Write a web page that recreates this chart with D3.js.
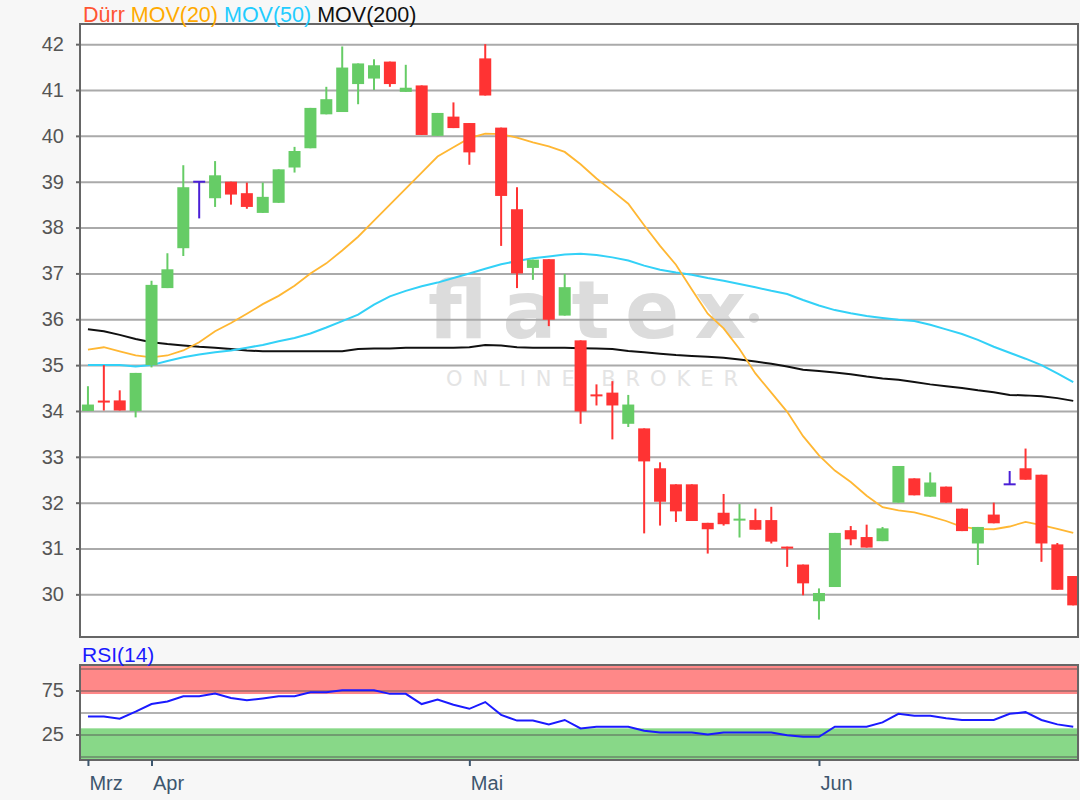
<!DOCTYPE html>
<html>
<head>
<meta charset="utf-8">
<script src="https://cdnjs.cloudflare.com/ajax/libs/d3/7.8.5/d3.min.js"></script>
<style>
  body { margin: 0; background: #f7f7f7; }
  svg { display: block; font-family: "Liberation Sans", Arial, sans-serif; }
</style>
</head>
<body>
<svg id="vis" width="1080" height="800"></svg>
<script>
// daily candles (EUR)
var opens = [34.0, 34.22, 34.23, 34.0, 35.0, 36.68, 37.55, 39.0, 38.64, 39.0,
  38.75, 38.32, 38.54, 39.31, 39.73, 40.47, 40.52, 41.13, 41.25, 41.62,
  40.96, 41.1, 40.0, 40.42, 40.28, 41.69, 40.18, 38.4, 37.12, 37.31,
  36.08, 35.54, 34.36, 34.4, 33.72, 33.62, 32.75, 32.4, 32.4, 31.56,
  31.78, 31.61, 31.62, 31.62, 31.04, 30.65, 29.85, 30.16, 31.4, 31.25,
  31.16, 32.0, 32.53, 32.13, 32.35, 31.87, 31.11, 31.74, 32.4, 32.75,
  32.61, 31.09, 30.4];
var highs = [34.54, 35.0, 34.45, 34.83, 36.84, 37.44, 39.36, 39.0, 39.45, 39.0,
  38.98, 38.98, 39.27, 39.76, 40.61, 41.07, 41.95, 41.58, 41.67, 41.62,
  41.55, 41.1, 40.5, 40.73, 40.28, 42.0, 40.18, 38.88, 37.3, 37.31,
  36.99, 35.54, 34.58, 34.65, 34.35, 33.62, 32.88, 32.4, 32.4, 31.56,
  32.19, 31.97, 31.87, 31.91, 31.04, 30.65, 30.13, 31.34, 31.49, 31.52,
  31.47, 32.8, 32.53, 32.66, 32.35, 31.87, 31.47, 32.0, 32.69, 33.18,
  32.61, 31.12, 30.4];
var lows = [34.0, 34.01, 34.01, 33.86, 34.95, 36.68, 37.38, 38.2, 38.45, 38.5,
  38.41, 38.32, 38.54, 39.2, 39.73, 40.47, 40.52, 40.69, 41.0, 41.07,
  40.96, 40.02, 40.0, 40.17, 39.37, 40.88, 37.6, 36.68, 36.86, 35.85,
  36.08, 33.72, 34.12, 33.38, 33.65, 31.33, 31.5, 31.58, 31.6, 30.89,
  31.5, 31.24, 31.41, 31.11, 30.6, 29.98, 29.45, 30.16, 31.07, 31.02,
  31.16, 32.0, 32.16, 32.13, 32.0, 31.38, 30.64, 31.55, 32.4, 32.5,
  30.71, 30.1, 29.76];
var closes = [34.14, 34.19, 34.01, 34.83, 36.75, 37.09, 38.88, 39.0, 39.14, 38.72,
  38.45, 38.67, 39.27, 39.67, 40.61, 40.8, 41.49, 41.58, 41.54, 41.13,
  41.05, 40.02, 40.5, 40.17, 39.64, 40.88, 38.69, 37.0, 37.3, 35.99,
  36.7, 33.99, 34.32, 34.12, 34.14, 32.9, 32.02, 31.81, 31.6, 31.42,
  31.53, 31.65, 31.41, 31.15, 31.0, 30.24, 30.03, 31.34, 31.2, 31.02,
  31.44, 32.8, 32.16, 32.44, 32.0, 31.38, 31.47, 31.55, 32.4, 32.5,
  31.11, 30.1, 29.76];

// moving averages
var ma20 = [35.34, 35.39, 35.3, 35.21, 35.17, 35.21, 35.32, 35.5, 35.74, 35.92,
  36.12, 36.33, 36.51, 36.73, 37.0, 37.22, 37.5, 37.8, 38.15, 38.5,
  38.85, 39.2, 39.55, 39.75, 39.95, 40.05, 40.04, 39.96, 39.86, 39.77,
  39.65, 39.38, 39.07, 38.8, 38.52, 38.05, 37.6, 37.19, 36.65, 36.12,
  35.8, 35.35, 34.82, 34.4, 33.98, 33.45, 33.03, 32.7, 32.45, 32.15,
  31.9, 31.83, 31.79, 31.7, 31.6, 31.47, 31.43, 31.42, 31.48, 31.58,
  31.51, 31.43, 31.34];
var ma50 = [35.0, 35.0, 35.0, 34.97, 35.0, 35.09, 35.17, 35.23, 35.28, 35.32,
  35.38, 35.44, 35.52, 35.59, 35.69, 35.82, 35.96, 36.1, 36.32, 36.5,
  36.62, 36.72, 36.8, 36.9, 37.0, 37.1, 37.2, 37.27, 37.33, 37.37,
  37.41, 37.43, 37.4, 37.35, 37.28, 37.17, 37.08, 37.02, 36.97, 36.9,
  36.84, 36.77, 36.7, 36.62, 36.55, 36.42, 36.3, 36.2, 36.13, 36.07,
  36.03, 35.99, 35.96, 35.88, 35.78, 35.68, 35.55, 35.4, 35.27, 35.14,
  35.0, 34.82, 34.63];
var ma200 = [35.78, 35.74, 35.66, 35.57, 35.5, 35.46, 35.43, 35.4, 35.38, 35.35,
  35.32, 35.3, 35.3, 35.3, 35.3, 35.3, 35.3, 35.35, 35.36, 35.36,
  35.38, 35.38, 35.38, 35.38, 35.39, 35.44, 35.43, 35.39, 35.38, 35.38,
  35.38, 35.37, 35.36, 35.35, 35.31, 35.28, 35.25, 35.22, 35.2, 35.18,
  35.16, 35.12, 35.08, 35.03, 34.97, 34.9, 34.87, 34.84, 34.8, 34.75,
  34.71, 34.68, 34.63, 34.58, 34.54, 34.5, 34.45, 34.41, 34.35, 34.34,
  34.32, 34.28, 34.22];

// RSI(14)
var rsi14 = [45.4, 45.4, 43, 51, 59.6, 62.5, 68.5, 68.5, 71.5, 66.5,
  63.8, 66, 68.5, 68.5, 73, 73.1, 75.4, 75.4, 75.4, 71.2,
  71.2, 59.6, 64.6, 58.8, 54.2, 61.9, 47.3, 40.8, 40.8, 36.5,
  41.5, 31.9, 33.8, 33.8, 33.8, 29.2, 27.3, 27.3, 27.3, 25,
  27.3, 27.3, 27.3, 27.3, 24.2, 22.3, 22.3, 33.8, 33.8, 33.8,
  38.8, 48.5, 46.2, 46.2, 43.5, 41.5, 41.5, 41.5, 48.5, 50.4,
  41.5, 36.5, 33.8];

// first trading day of each month (candle index)
var monthStarts = [0, 4, 24, 46];
var monthLabels = ["Mrz", "Apr", "Mai", "Jun"];

var priceTicks = d3.range(30, 43);
var rsiLabelTicks = [25, 75];
var rsiGridTicks = [0, 25, 50, 75, 100];

var colors = {
  up: "#66cc66",
  down: "#ff3333",
  flat: "#4a1fd6",
  title: "#ff5533",
  ma20: "#ffb733",
  ma50: "#33d1f7",
  ma200: "#111111",
  rsi: "#1a1aff"
};

var svg = d3.select("body").select("svg#vis");

var attr = {
  left: 80,
  right: 1078,
  price: { top: 24, bottom: 637 },
  rsi: { top: 665, bottom: 760 },
  bodyWidth: 12
};

var x = d3.scaleLinear().domain([-0.5, 62.3]).range([attr.left, attr.right]);
var y = d3.scaleLinear().domain([29.07, 42.44]).range([attr.price.bottom, attr.price.top]);
var yRsi = d3.scaleLinear().domain([-4, 104]).range([attr.rsi.bottom, attr.rsi.top]);

var candles = opens.map(function(o, i) {
  return { i: i, o: o, h: highs[i], l: lows[i], c: closes[i] };
});

function candleColor(d) {
  if (d.c > d.o) return colors.up;
  if (d.c < d.o) return colors.down;
  return colors.flat;
}

// clip regions
var defs = svg.append("defs");
defs.append("clipPath").attr("id", "clipPrice").append("rect")
  .attr("x", attr.left).attr("y", attr.price.top)
  .attr("width", attr.right - attr.left).attr("height", attr.price.bottom - attr.price.top);
defs.append("clipPath").attr("id", "clipRsi").append("rect")
  .attr("x", attr.left).attr("y", attr.rsi.top)
  .attr("width", attr.right - attr.left).attr("height", attr.rsi.bottom - attr.rsi.top);

// ---------- price panel ----------
svg.append("rect")
  .attr("x", attr.left).attr("y", attr.price.top)
  .attr("width", attr.right - attr.left).attr("height", attr.price.bottom - attr.price.top)
  .style("fill", "#ffffff");

// watermark
var wm = svg.append("g").attr("id", "watermark");
wm.append("text")
  .attr("x", 428).attr("y", 338)
  .attr("textLength", 318).attr("lengthAdjust", "spacing")
  .style("font-family", "'DejaVu Sans', sans-serif")
  .style("font-weight", "bold")
  .style("font-size", "80px")
  .style("fill", "#dcdcdc")
  .text("flatex");
wm.append("circle").attr("cx", 754).attr("cy", 318).attr("r", 5).style("fill", "#dcdcdc");
wm.append("text")
  .attr("x", 446).attr("y", 386)
  .attr("textLength", 292).attr("lengthAdjust", "spacing")
  .style("font-family", "'DejaVu Sans', sans-serif")
  .style("font-size", "21px")
  .style("fill", "#e4e4e4")
  .text("ONLINE BROKER");

// gridlines
svg.append("g")
  .attr("transform", "translate(" + attr.left + ",0)")
  .call(d3.axisLeft(y).tickValues(priceTicks).tickSize(-(attr.right - attr.left)).tickFormat(""))
  .call(function(g) {
    g.select(".domain").remove();
    g.selectAll(".tick line").style("stroke", "#aaaaaa").style("stroke-width", 2);
  });

// price labels
svg.append("g")
  .attr("transform", "translate(" + attr.left + ",0)")
  .call(d3.axisLeft(y).tickValues(priceTicks).tickSize(4).tickPadding(12).tickFormat(d3.format("d")))
  .call(function(g) {
    g.select(".domain").remove();
    g.selectAll(".tick line").style("stroke", "#666").style("stroke-width", 2);
    g.selectAll(".tick text").style("fill", "#555").style("font-size", "20px")
      .style("font-family", "'Liberation Sans', Arial, sans-serif");
  });

// moving averages
var line = d3.line()
  .x(function(d, i) { return x(i); })
  .y(function(d) { return y(d); });

var gLines = svg.append("g").attr("clip-path", "url(#clipPrice)");
gLines.append("path").datum(ma200).attr("d", line)
  .style("fill", "none").style("stroke", colors.ma200).style("stroke-width", 2);
gLines.append("path").datum(ma50).attr("d", line)
  .style("fill", "none").style("stroke", colors.ma50).style("stroke-width", 2);
gLines.append("path").datum(ma20).attr("d", line)
  .style("fill", "none").style("stroke", colors.ma20).style("stroke-width", 1.8);

// candles
var gCandles = svg.append("g").attr("clip-path", "url(#clipPrice)");
var candle = gCandles.selectAll("g.candle")
  .data(candles)
  .enter()
  .append("g")
  .attr("class", "candle");

candle.append("line")
  .attr("x1", function(d) { return x(d.i); })
  .attr("x2", function(d) { return x(d.i); })
  .attr("y1", function(d) { return y(d.h); })
  .attr("y2", function(d) { return y(d.l); })
  .style("stroke", candleColor)
  .style("stroke-width", 2);

candle.append("rect")
  .attr("x", function(d) { return x(d.i) - attr.bodyWidth / 2; })
  .attr("width", attr.bodyWidth)
  .attr("y", function(d) {
    var top = y(Math.max(d.o, d.c));
    var h = Math.abs(y(d.o) - y(d.c));
    return h < 2 ? top - (2 - h) / 2 : top;
  })
  .attr("height", function(d) { return Math.max(2, Math.abs(y(d.o) - y(d.c))); })
  .style("fill", candleColor);

svg.append("rect")
  .attr("x", attr.left).attr("y", attr.price.top)
  .attr("width", attr.right - attr.left).attr("height", attr.price.bottom - attr.price.top)
  .style("fill", "none").style("stroke", "#666").style("stroke-width", 2);

// legend
var legend = svg.append("text")
  .attr("x", 83).attr("y", 22)
  .style("font-size", "21.5px");
legend.append("tspan").style("fill", colors.title).text("Dürr ");
legend.append("tspan").style("fill", "#ffaa00").text("MOV(20) ");
legend.append("tspan").style("fill", "#22ccff").text("MOV(50) ");
legend.append("tspan").style("fill", "#111").text("MOV(200)");

// ---------- RSI panel ----------
svg.append("rect")
  .attr("x", attr.left).attr("y", attr.rsi.top)
  .attr("width", attr.right - attr.left).attr("height", attr.rsi.bottom - attr.rsi.top)
  .style("fill", "#ffffff");

// overbought / oversold bands
svg.append("rect")
  .attr("x", attr.left).attr("width", attr.right - attr.left)
  .attr("y", yRsi(104)).attr("height", yRsi(71) - yRsi(104))
  .style("fill", "#ff8888");
svg.append("rect")
  .attr("x", attr.left).attr("width", attr.right - attr.left)
  .attr("y", yRsi(32)).attr("height", yRsi(-4) - yRsi(32))
  .style("fill", "#88d888");

svg.append("g")
  .attr("transform", "translate(" + attr.left + ",0)")
  .call(d3.axisLeft(yRsi).tickValues(rsiGridTicks).tickSize(-(attr.right - attr.left)).tickFormat(""))
  .call(function(g) {
    g.select(".domain").remove();
    g.selectAll(".tick line").style("stroke", "#555").style("stroke-opacity", 0.45).style("stroke-width", 2);
  });

svg.append("g")
  .attr("transform", "translate(" + attr.left + ",0)")
  .call(d3.axisLeft(yRsi).tickValues(rsiLabelTicks).tickSize(4).tickPadding(12).tickFormat(d3.format("d")))
  .call(function(g) {
    g.select(".domain").remove();
    g.selectAll(".tick line").style("stroke", "#666").style("stroke-width", 2);
    g.selectAll(".tick text").style("fill", "#555").style("font-size", "20px")
      .style("font-family", "'Liberation Sans', Arial, sans-serif");
  });

svg.append("g").attr("clip-path", "url(#clipRsi)")
  .append("path").datum(rsi14)
  .attr("d", d3.line().x(function(d, i) { return x(i); }).y(function(d) { return yRsi(d); }))
  .style("fill", "none").style("stroke", colors.rsi).style("stroke-width", 2);

svg.append("rect")
  .attr("x", attr.left).attr("y", attr.rsi.top)
  .attr("width", attr.right - attr.left).attr("height", attr.rsi.bottom - attr.rsi.top)
  .style("fill", "none").style("stroke", "#666").style("stroke-width", 2);

svg.append("text")
  .attr("x", 82).attr("y", 662)
  .style("font-size", "21px").style("fill", "#1a1aff")
  .text("RSI(14)");

// month axis
svg.append("g")
  .attr("transform", "translate(0," + attr.rsi.bottom + ")")
  .call(d3.axisBottom(x).tickValues(monthStarts).tickSize(6).tickPadding(10)
    .tickFormat(function(d, i) { return monthLabels[i]; }))
  .call(function(g) {
    g.select(".domain").remove();
    g.selectAll(".tick line").style("stroke", "#3d566e").style("stroke-width", 2);
    g.selectAll(".tick text")
      .attr("text-anchor", "start")
      .attr("x", 1)
      .style("fill", "#3d566e").style("font-size", "20px")
      .style("font-family", "'Liberation Sans', Arial, sans-serif");
  });
</script>
</body>
</html>
